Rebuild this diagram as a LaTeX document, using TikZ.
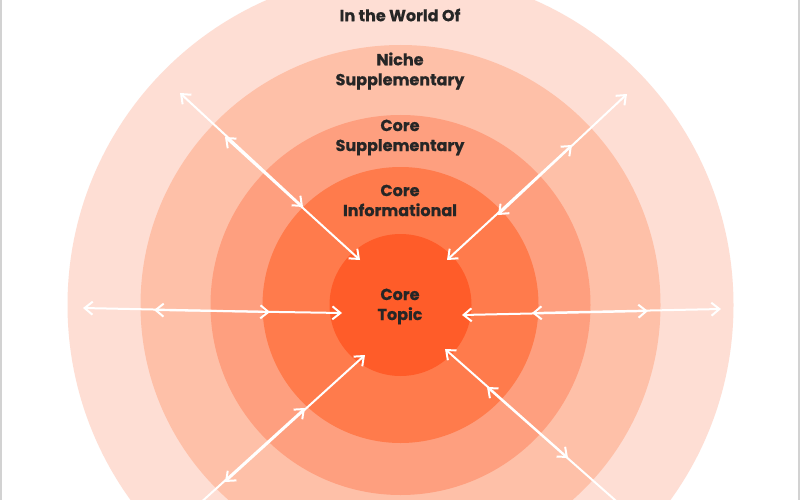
\documentclass[tikz,border=0pt]{standalone}
\usepackage{fontspec}
\setmainfont{Poppins}[BoldFeatures={FakeBold=0.6}]
\usepackage{tikz}
\usetikzlibrary{arrows.meta}

\definecolor{ringworld}{HTML}{FEDED4}
\definecolor{ringniche}{HTML}{FEC0A8}
\definecolor{ringsupp}{HTML}{FE9F7F}
\definecolor{ringinfo}{HTML}{FF7B4C}
\definecolor{ringtopic}{HTML}{FF5C29}
\definecolor{inkgray}{HTML}{262626}
\definecolor{edgegray}{HTML}{D2D2D2}

\tikzset{
	ringtext/.style={text=inkgray, font=\bfseries\fontsize{16}{20}\selectfont, align=center, inner sep=0pt},
	link/.style={draw=white, line width=2pt, {Straight Barb[length=8pt,width=13pt]}-{Straight Barb[length=8pt,width=13pt]}}
}

\begin{document}
\begin{tikzpicture}[x=1pt, y=-1pt]
			%%%%% START %%%%%
			
			\useasboundingbox (0, 0) rectangle (800, 500);
			\clip (0, 0) rectangle (800, 500);
			\fill[white] (0, 0) rectangle (800, 500);
			
			\coordinate (cen) at (400.5, 305);
			
			\fill[ringworld] (cen) circle[radius=333pt];
			\fill[ringniche] (cen) circle[radius=260pt];
			\fill[ringsupp] (cen) circle[radius=190pt];
			\fill[ringinfo] (cen) circle[radius=138pt];
			\fill[ringtopic] (cen) circle[radius=71pt];
			
			\node[ringtext] (world) at (400, 15) {In the World Of};
			\node[ringtext] (niche) at (400, 71) {Niche\\Supplementary};
			\node[ringtext] (supp) at (400, 137.5) {Core\\Supplementary};
			\node[ringtext] (info) at (400, 200.5) {Core\\Informational};
			\node[ringtext] (topic) at (400, 306.5) {Core\\Topic};
			
			% left and right
			\coordinate (w1) at (83, 308);
			\coordinate (w2) at (154, 310);
			\coordinate (w3) at (270, 312);
			\coordinate (w4) at (342, 313);
			\coordinate (e1) at (721, 309);
			\coordinate (e2) at (648, 311);
			\coordinate (e3) at (532, 313);
			\coordinate (e4) at (462, 315);
			
			% upper diagonals
			\coordinate (nw1) at (180, 93);
			\coordinate (nw2) at (225, 137);
			\coordinate (nw3) at (303, 207);
			\coordinate (nw4) at (360, 260);
			\coordinate (ne1) at (627, 94);
			\coordinate (ne2) at (572, 145);
			\coordinate (ne3) at (498, 215);
			\coordinate (ne4) at (447, 260);
			
			% lower diagonals
			\coordinate (sw1) at (165, 535);
			\coordinate (sw2) at (225, 482);
			\coordinate (sw3) at (305, 408);
			\coordinate (sw4) at (365, 355);
			\coordinate (se1) at (632, 515);
			\coordinate (se2) at (568, 458);
			\coordinate (se3) at (487, 387);
			\coordinate (se4) at (445, 349);
			
			\draw[link] (w1) -- (w3);
			\draw[link] (w2) -- (w4);
			\draw[link] (e1) -- (e3);
			\draw[link] (e2) -- (e4);
			\draw[link] (nw1) -- (nw3);
			\draw[link] (nw2) -- (nw4);
			\draw[link] (ne1) -- (ne3);
			\draw[link] (ne2) -- (ne4);
			\draw[link] (sw1) -- (sw3);
			\draw[link] (sw2) -- (sw4);
			\draw[link] (se1) -- (se3);
			\draw[link] (se2) -- (se4);
			
			\draw[edgegray, line width=2pt] (1, 0) -- (1, 500);
			\draw[edgegray, line width=2pt] (798.5, 0) -- (798.5, 500);
			
			%%%%% END %%%%%
		\end{tikzpicture}
\end{document}
